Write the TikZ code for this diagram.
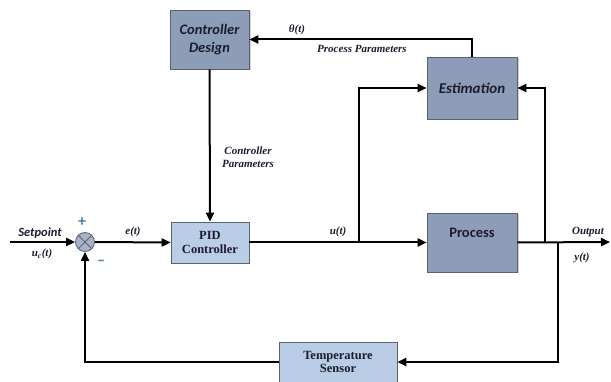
\documentclass[tikz,border=0pt]{standalone}
\usepackage{fontspec}
\setmainfont{Liberation Serif}
\newfontfamily\carlitofont{Carlito}
\usetikzlibrary{arrows.meta,shadows}
\definecolor{darkbox}{HTML}{8D9DB8}
\definecolor{lightbox}{HTML}{B9CDE6}
\definecolor{boxline}{HTML}{5A6272}
\definecolor{txt}{HTML}{1C1C2C}
\definecolor{plusblue}{HTML}{4A7DB0}
\definecolor{sumfill}{HTML}{A8B3C7}
\tikzset{
  conn/.style={line width=2pt, draw=black},
  arr/.style={conn, -{Triangle[length=9pt,width=8pt]}},
  darkblk/.style={draw=boxline, line width=0.6pt, fill=darkbox, text=txt, align=center,
     drop shadow={shadow xshift=1.5pt, shadow yshift=-1.5pt, opacity=0.35}},
  lightblk/.style={draw=boxline, line width=0.6pt, fill=lightbox, text=txt, align=center,
     font=\bfseries\fontsize{12.5}{13.5}\selectfont},
  lbl/.style={font=\bfseries\itshape\fontsize{11}{12.5}\selectfont, text=txt, inner sep=0pt},
  sumnode/.style={circle, draw=boxline, line width=0.8pt, fill=sumfill, minimum size=19pt, inner sep=0pt}
}
\begin{document}
\begin{tikzpicture}[x=1pt,y=-1pt]
\useasboundingbox (0,0) rectangle (611,382);
% blocks
\node[darkblk, minimum width=79pt, minimum height=59pt, font=\carlitofont\bfseries\itshape\fontsize{14.5}{18}\selectfont] (cd) at (209.5,39.5) {Controller\\Design};
\node[darkblk, minimum width=90pt, minimum height=62pt, font=\carlitofont\bfseries\itshape\fontsize{15}{18}\selectfont] (est) at (472,88) {Estimation};
\node[lightblk, minimum width=78pt, minimum height=41pt] (pid) at (210,242.5) {PID\\Controller};
\node[darkblk, minimum width=90pt, minimum height=59pt, text height=9pt, text depth=19pt, font=\carlitofont\bfseries\fontsize{14.5}{18}\selectfont] (proc) at (472,242.5) {Process};
\node[lightblk, minimum width=118pt, minimum height=40pt] (temp) at (338,362) {Temperature\\Sensor};
\node[sumnode] (sum) at (85,242) {};
\draw[line width=0.8pt, draw=boxline] (sum.north east) -- (sum.south west) (sum.north west) -- (sum.south east);
% coordinates
\coordinate (sp) at (10,242);
\coordinate (j1) at (359,242);
\coordinate (j2) at (545,242);
\coordinate (j3) at (558,242);
\coordinate (out) at (610,242);
% connectors
\draw[arr] (sp) -- (sum.west);
\draw[arr] (sum.east) -- (pid.west);
\draw[arr] (cd.south) -- (pid.north);
\draw[arr] (pid.east) -- (proc.west);
\draw[arr] (j1) |- (est.west);
\draw[arr] (proc.east) -- (out);
\draw[arr] (j2) |- (est.east);
\draw[arr] (est.north) |- (cd.east);
\draw[arr] (j3) |- (temp.east);
\draw[arr] (temp.west) -| (sum.south);
% labels
\node[font=\carlitofont\bfseries\itshape\fontsize{12.5}{14}\selectfont, text=txt, inner sep=0pt] (lsp) at (40,233) {Setpoint};
\node[lbl] (luc) at (42,254) {u\textsubscript{c}(t)};
\node[lbl] (le) at (133,232) {e(t)};
\node[lbl] (lu) at (338,232) {u(t)};
\node[lbl] (lth) at (297,30) {θ(t)};
\node[lbl] (lpp) at (362,49) {Process Parameters};
\node[lbl, align=center] (lcp) at (248,157) {Controller\\Parameters};
\node[lbl] (lout) at (588,232) {Output};
\node[lbl] (ly) at (582,258) {y(t)};
\node[font=\carlitofont\bfseries\fontsize{16}{16}\selectfont, text=plusblue, inner sep=0pt] (lplus) at (82,222) {+};
\node[font=\carlitofont\bfseries\fontsize{16}{16}\selectfont, text=plusblue, inner sep=0pt] (lminus) at (101,263) {–};
\end{tikzpicture}
\end{document}
